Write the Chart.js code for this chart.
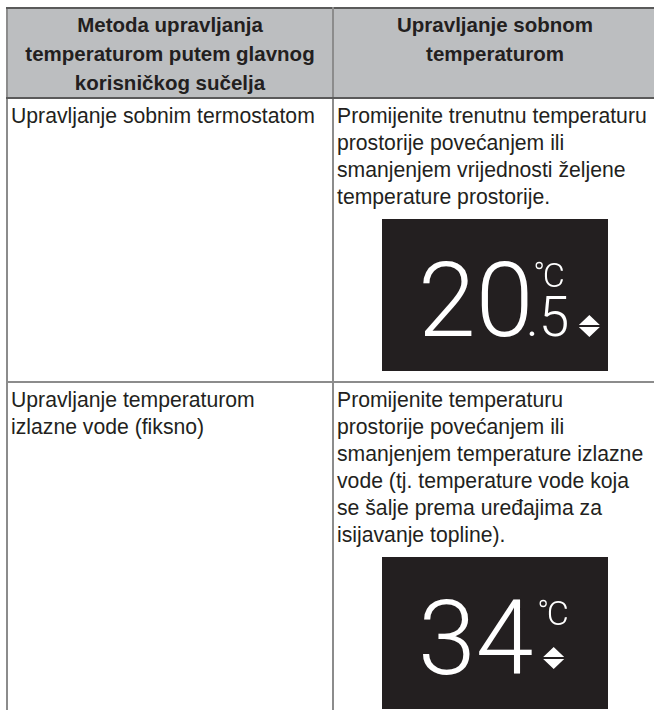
<!DOCTYPE html>
<html>
<head>
<meta charset="utf-8">
<script src="https://cdn.jsdelivr.net/npm/chart.js@4.4.1/dist/chart.umd.min.js"></script>
<style>
  html, body { margin: 0; padding: 0; background: #fff; }
  body { width: 654px; height: 710px; overflow: hidden; position: relative; }
  #tbl {
    position: absolute; left: 6px; top: 7px;
    border-collapse: collapse; table-layout: fixed; width: 650px;
    font-family: "Liberation Sans", Arial, sans-serif; color: #231f20;
  }
  #tbl th, #tbl td { border: 2px solid #8c8c8c; vertical-align: top; padding: 0; }
  #tbl th {
    background: #bcbec0; font-weight: bold; font-size: 20.5px; line-height: 29px;
    text-align: center; padding: 1px 4px 0; border-top-color: #5a5a5a; border-bottom-color: #5a5a5a;
  }
  #tbl td { font-size: 21.2px; line-height: 27px; padding: 3px 3px 0 3px; }
  .ln { white-space: nowrap; }
  .lcd { display: block; margin: 9px auto 0; }
</style>
</head>
<body>
<table id="tbl">
  <colgroup><col style="width:326px"><col style="width:324px"></colgroup>
  <thead><tr id="head" style="height:89px"></tr></thead>
  <tbody id="body"></tbody>
</table>
<script>
// header lines per column
const headers = [
  ['Metoda upravljanja', 'temperaturom putem glavnog', 'korisničkog sučelja'],
  ['Upravljanje sobnom', 'temperaturom'],
];
// first column: control method
const methods = [
  ['Upravljanje sobnim termostatom'],
  ['Upravljanje temperaturom', 'izlazne vode (fiksno)'],
];
// second column: how the room temperature is changed
const descriptions = [
  ['Promijenite trenutnu temperaturu', 'prostorije povećanjem ili', 'smanjenjem vrijednosti željene', 'temperature prostorije.'],
  ['Promijenite temperaturu', 'prostorije povećanjem ili', 'smanjenjem temperature izlazne', 'vode (tj. temperature vode koja', 'se šalje prema uređajima za', 'isijavanje topline).'],
];
// value shown on the display of each row
const readings = [20.5, 34];
const decimals = [1, 0];
const unit = 'C';
const rowHeights = [284, 400];

function lines(arr) {
  return arr.map(t => `<div class="ln">${t}</div>`).join('');
}

document.getElementById('head').innerHTML = headers.map(h => `<th>${lines(h)}</th>`).join('');
document.getElementById('body').innerHTML = methods.map((m, i) => `<tr style="height:${rowHeights[i]}px">
  <td>${lines(m)}</td>
  <td>${lines(descriptions[i])}<canvas class="lcd" id="lcd${i}" width="226" height="152"></canvas></td>
</tr>`).join('');

function inkLeftX(ctx, text, inkLeft) {
  const m = ctx.measureText(text);
  return { x: inkLeft + m.actualBoundingBoxLeft, right: inkLeft + m.actualBoundingBoxLeft + m.actualBoundingBoxRight };
}

function arrows(ctx, x, bottom) {
  const w = 21, h = 10, gap = 2;
  ctx.beginPath();
  ctx.moveTo(x, bottom - h - gap);
  ctx.lineTo(x + w, bottom - h - gap);
  ctx.lineTo(x + w / 2, bottom - 2 * h - gap);
  ctx.closePath();
  ctx.moveTo(x, bottom - h);
  ctx.lineTo(x + w, bottom - h);
  ctx.lineTo(x + w / 2, bottom);
  ctx.closePath();
  ctx.fill();
}

const lcdPlugin = {
  id: 'lcd',
  beforeDraw(chart, args, opts) {
    const { ctx, width, height } = chart;
    ctx.save();
    ctx.fillStyle = opts.background;
    ctx.fillRect(0, 0, width, height);
    ctx.restore();
  },
  afterDraw(chart, args, opts) {
    const { ctx } = chart;
    const area = chart.chartArea;
    const parts = opts.value.toFixed(opts.decimals).split('.');
    const base = area.top + 117;
    ctx.save();
    ctx.fillStyle = '#fff';
    ctx.strokeStyle = '#fff';
    ctx.textBaseline = 'alphabetic';
    ctx.textAlign = 'left';

    ctx.font = '300 104px Roboto';
    const big = inkLeftX(ctx, parts[0], area.left + 41);
    ctx.fillText(parts[0], big.x, base);

    // unit, sitting above the fraction
    const ux = big.right + 8;
    ctx.lineWidth = 1.3;
    ctx.beginPath();
    ctx.arc(ux + 3.5, area.top + 46.5, 3, 0, Math.PI * 2);
    ctx.stroke();
    ctx.font = '300 34px Roboto';
    const c = inkLeftX(ctx, opts.unit, ux + 9);
    ctx.fillText(opts.unit, c.x, area.top + 68);

    if (parts[1]) {
      ctx.font = '300 55px Roboto';
      const fr = inkLeftX(ctx, '.' + parts[1], big.right + 1);
      ctx.fillText('.' + parts[1], fr.x, base);
      arrows(ctx, fr.right + 11, base + 1);
    } else {
      arrows(ctx, (ux + c.right) / 2 - 10.5, base - 5);
    }
    ctx.restore();
  },
};

readings.forEach((v, i) => {
  new Chart(document.getElementById('lcd' + i), {
    type: 'scatter',
    data: { datasets: [] },
    plugins: [lcdPlugin],
    options: {
      responsive: false,
      animation: false,
      devicePixelRatio: 1,
      layout: { padding: 0 },
      scales: { x: { display: false }, y: { display: false } },
      plugins: {
        legend: { display: false },
        tooltip: { enabled: false },
        lcd: { value: v, decimals: decimals[i], unit, background: '#231f20' },
      },
    },
  });
});
</script>
</body>
</html>
